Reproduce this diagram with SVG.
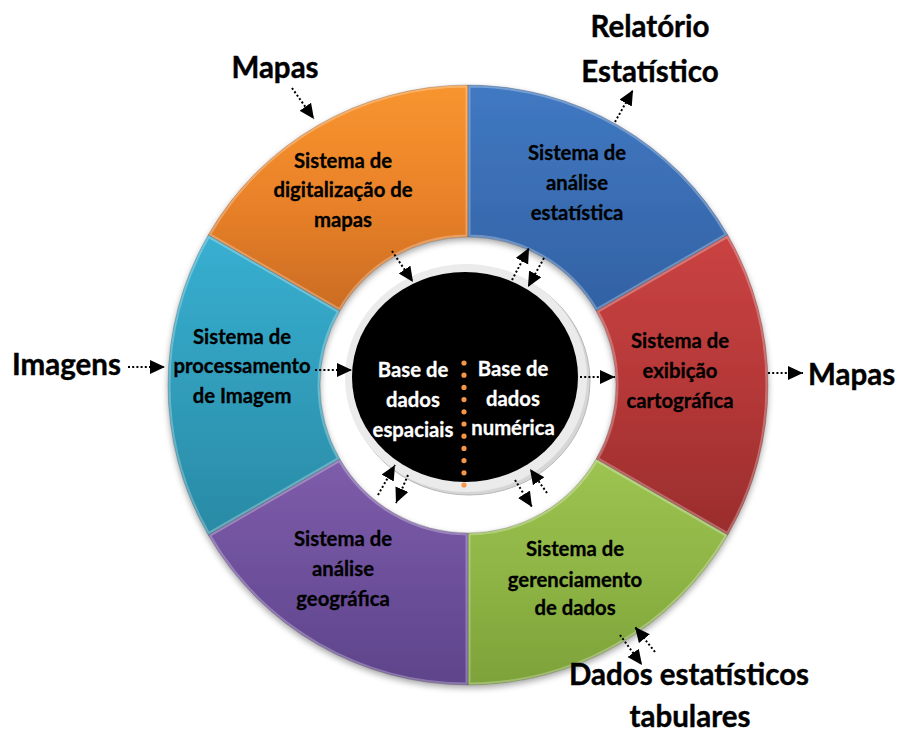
<svg xmlns="http://www.w3.org/2000/svg" xmlns:xlink="http://www.w3.org/1999/xlink" width="899" height="734" viewBox="0 0 899 734">
<style>
  .seg-t { font-family: Lato, "Liberation Sans", sans-serif; font-weight: bold; font-size: 20.3px; fill: #000; stroke: #000; stroke-width: 0.3px; text-anchor: middle; }
  .core-t { font-family: Lato, "Liberation Sans", sans-serif; font-weight: bold; font-size: 20.3px; fill: #fff; stroke: #fff; stroke-width: 0.3px; text-anchor: middle; }
  .out-t { font-family: Lato, "Liberation Sans", sans-serif; font-weight: bold; font-size: 29.5px; fill: #000; stroke: #000; stroke-width: 0.4px; }
  .bevel { fill: none; stroke: #fff; stroke-opacity: 0.28; stroke-width: 5; }
  .edge { fill: none; stroke: #000; stroke-opacity: 0.18; stroke-width: 1; }
  .conn { fill: none; stroke: #000; stroke-width: 2; stroke-dasharray: 2 2.2; marker-end: url(#ah); }
</style>
<defs>
  <marker id="ah" markerUnits="userSpaceOnUse" markerWidth="16" markerHeight="15" refX="15" refY="7" orient="auto">
    <path d="M0,0 L15,7 L0,14 Z" fill="#000"/>
  </marker>
  <filter id="shadow" x="-10%" y="-10%" width="120%" height="125%">
    <feDropShadow dx="0" dy="3" stdDeviation="3" flood-color="#000" flood-opacity="0.35"/>
  </filter>
  <linearGradient id="g-orange" x1="0" y1="0" x2="0" y2="1"><stop offset="0" stop-color="#F8952F"/><stop offset="0.5" stop-color="#EA8229"/><stop offset="1" stop-color="#CA6C23"/></linearGradient>
  <linearGradient id="g-blue" x1="0" y1="0" x2="0" y2="1"><stop offset="0" stop-color="#4079C2"/><stop offset="0.5" stop-color="#3A6DB3"/><stop offset="1" stop-color="#3262A4"/></linearGradient>
  <linearGradient id="g-red" x1="0" y1="0" x2="0" y2="1"><stop offset="0" stop-color="#CA4343"/><stop offset="0.5" stop-color="#B63838"/><stop offset="1" stop-color="#9A2D2D"/></linearGradient>
  <linearGradient id="g-green" x1="0" y1="0" x2="0" y2="1"><stop offset="0" stop-color="#9DC451"/><stop offset="0.5" stop-color="#8EB545"/><stop offset="1" stop-color="#7DA23A"/></linearGradient>
  <linearGradient id="g-purple" x1="0" y1="0" x2="0" y2="1"><stop offset="0" stop-color="#7E5DAB"/><stop offset="0.5" stop-color="#6E509C"/><stop offset="1" stop-color="#5E448A"/></linearGradient>
  <linearGradient id="g-teal" x1="0" y1="0" x2="0" y2="1"><stop offset="0" stop-color="#38AFD1"/><stop offset="0.5" stop-color="#309DBB"/><stop offset="1" stop-color="#2A8AA5"/></linearGradient>
  <path id="p-orange" d="M468,85 A300,300 0 0 0 208.19,235 L339.83,311 A148,148 0 0 1 468,237 Z"/>
  <path id="p-blue" d="M727.81,235 A300,300 0 0 0 468,85 L468,237 A148,148 0 0 1 596.17,311 Z"/>
  <path id="p-red" d="M727.81,535 A300,300 0 0 0 727.81,235 L596.17,311 A148,148 0 0 1 596.17,459 Z"/>
  <path id="p-green" d="M468,685 A300,300 0 0 0 727.81,535 L596.17,459 A148,148 0 0 1 468,533 Z"/>
  <path id="p-purple" d="M208.19,535 A300,300 0 0 0 468,685 L468,533 A148,148 0 0 1 339.83,459 Z"/>
  <path id="p-teal" d="M208.19,235 A300,300 0 0 0 208.19,535 L339.83,459 A148,148 0 0 1 339.83,311 Z"/>
  <clipPath id="c-orange"><use xlink:href="#p-orange"/></clipPath>
  <clipPath id="c-blue"><use xlink:href="#p-blue"/></clipPath>
  <clipPath id="c-red"><use xlink:href="#p-red"/></clipPath>
  <clipPath id="c-green"><use xlink:href="#p-green"/></clipPath>
  <clipPath id="c-purple"><use xlink:href="#p-purple"/></clipPath>
  <clipPath id="c-teal"><use xlink:href="#p-teal"/></clipPath>
</defs>

<rect x="0" y="0" width="899" height="734" fill="#fff"/>

<g id="ring" filter="url(#shadow)">
  <g id="seg-orange">
    <use xlink:href="#p-orange" fill="url(#g-orange)"/>
    <use xlink:href="#p-orange" class="bevel" clip-path="url(#c-orange)"/>
    <use xlink:href="#p-orange" class="edge"/>
  </g>
  <g id="seg-blue">
    <use xlink:href="#p-blue" fill="url(#g-blue)"/>
    <use xlink:href="#p-blue" class="bevel" clip-path="url(#c-blue)"/>
    <use xlink:href="#p-blue" class="edge"/>
  </g>
  <g id="seg-red">
    <use xlink:href="#p-red" fill="url(#g-red)"/>
    <use xlink:href="#p-red" class="bevel" clip-path="url(#c-red)"/>
    <use xlink:href="#p-red" class="edge"/>
  </g>
  <g id="seg-green">
    <use xlink:href="#p-green" fill="url(#g-green)"/>
    <use xlink:href="#p-green" class="bevel" clip-path="url(#c-green)"/>
    <use xlink:href="#p-green" class="edge"/>
  </g>
  <g id="seg-purple">
    <use xlink:href="#p-purple" fill="url(#g-purple)"/>
    <use xlink:href="#p-purple" class="bevel" clip-path="url(#c-purple)"/>
    <use xlink:href="#p-purple" class="edge"/>
  </g>
  <g id="seg-teal">
    <use xlink:href="#p-teal" fill="url(#g-teal)"/>
    <use xlink:href="#p-teal" class="bevel" clip-path="url(#c-teal)"/>
    <use xlink:href="#p-teal" class="edge"/>
  </g>
</g>

<g id="labels-segments">
  <text class="seg-t"><tspan x="343" y="168">Sistema de</tspan><tspan x="343" y="197">digitalização de</tspan><tspan x="343" y="227">mapas</tspan></text>
  <text class="seg-t"><tspan x="577" y="160">Sistema de</tspan><tspan x="577" y="190">análise</tspan><tspan x="577" y="220">estatística</tspan></text>
  <text class="seg-t"><tspan x="680" y="348">Sistema de</tspan><tspan x="680" y="378">exibição</tspan><tspan x="680" y="408">cartográfica</tspan></text>
  <text class="seg-t"><tspan x="575" y="556">Sistema de</tspan><tspan x="575" y="587">gerenciamento</tspan><tspan x="575" y="615">de dados</tspan></text>
  <text class="seg-t"><tspan x="343" y="546">Sistema de</tspan><tspan x="343" y="576">análise</tspan><tspan x="343" y="606">geográfica</tspan></text>
  <text class="seg-t"><tspan x="242" y="344">Sistema de</tspan><tspan x="242" y="373">processamento</tspan><tspan x="242" y="403">de Imagem</tspan></text>
</g>

<g id="core">
  <ellipse cx="469" cy="381" rx="121" ry="114" fill="#D6D6D6" stroke="#B8B8B8" stroke-width="1"/>
  <ellipse cx="466" cy="378" rx="121" ry="114" fill="#EBEBEB"/>
  <ellipse cx="465" cy="377" rx="113" ry="105" fill="#000"/>
  <line x1="464" y1="363" x2="464" y2="486" stroke="#F79646" stroke-width="5.2" stroke-linecap="round" stroke-dasharray="0 12.2"/>
  <text class="core-t"><tspan x="413" y="377">Base de</tspan><tspan x="413" y="407">dados</tspan><tspan x="413" y="437">espaciais</tspan></text>
  <text class="core-t"><tspan x="513" y="376">Base de</tspan><tspan x="513" y="406">dados</tspan><tspan x="513" y="435">numérica</tspan></text>
</g>

<g id="outer-labels">
  <text class="out-t" x="275" y="78" text-anchor="middle">Mapas</text>
  <text class="out-t" x="650" y="37" text-anchor="middle">Relatório</text>
  <text class="out-t" x="650" y="82" text-anchor="middle">Estatístico</text>
  <text class="out-t" x="808" y="385">Mapas</text>
  <text class="out-t" x="12" y="375">Imagens</text>
  <text class="out-t" x="689" y="685" text-anchor="middle">Dados estatísticos</text>
  <text class="out-t" x="690" y="727" text-anchor="middle">tabulares</text>
</g>

<g id="connectors">
  <line class="conn" x1="292" y1="88" x2="314" y2="119"/>
  <line class="conn" x1="392" y1="251" x2="413" y2="282"/>
  <line class="conn" x1="512" y1="280" x2="529" y2="248"/>
  <line class="conn" x1="544" y1="258" x2="528" y2="287"/>
  <line class="conn" x1="615" y1="122" x2="633" y2="90"/>
  <line class="conn" x1="580" y1="377" x2="615" y2="377"/>
  <line class="conn" x1="768" y1="373" x2="803" y2="373"/>
  <line class="conn" x1="547" y1="493" x2="530" y2="469"/>
  <line class="conn" x1="515" y1="480" x2="532" y2="507"/>
  <line class="conn" x1="655" y1="652" x2="635" y2="627"/>
  <line class="conn" x1="620" y1="635" x2="642" y2="665"/>
  <line class="conn" x1="378" y1="495" x2="395" y2="465"/>
  <line class="conn" x1="408" y1="475" x2="396" y2="503"/>
  <line class="conn" x1="128" y1="367" x2="165" y2="367"/>
  <line class="conn" x1="315" y1="370" x2="352" y2="370"/>
</g>
</svg>
